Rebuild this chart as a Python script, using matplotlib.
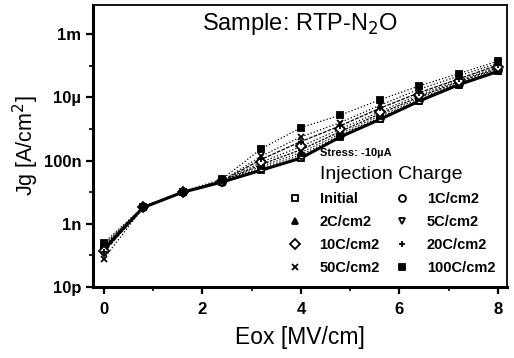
import numpy as np
import matplotlib
matplotlib.use('Agg')
import matplotlib.pyplot as plt
from matplotlib.lines import Line2D
from matplotlib.ticker import FixedLocator, NullFormatter

plt.rcParams['font.family'] = ['Liberation Sans', 'DejaVu Sans']

eox = [0.0, 0.8, 1.6, 2.4, 3.2, 4.0, 4.8, 5.6, 6.4, 7.2, 8.0]

jg_initial = [1.6e-10, 3.3e-9, 1.0e-8, 2.1e-8, 5.0e-8, 1.2e-7, 5.6e-7, 2.0e-6, 7.6e-6, 2.5e-5, 6.6e-5]
jg_1c = [2.0e-10, 3.4e-9, 1.0e-8, 2.1e-8, 5.8e-8, 1.5e-7, 6.3e-7, 2.3e-6, 8.3e-6, 2.7e-5, 7.2e-5]
jg_2c = [2.2e-10, 3.4e-9, 1.0e-8, 2.2e-8, 6.6e-8, 1.8e-7, 7.1e-7, 2.6e-6, 9.3e-6, 2.8e-5, 7.9e-5]
jg_5c = [1.8e-10, 3.4e-9, 1.0e-8, 2.2e-8, 7.6e-8, 2.2e-7, 8.3e-7, 3.0e-6, 1.05e-5, 3.1e-5, 8.5e-5]
jg_10c = [1.4e-10, 3.3e-9, 1.0e-8, 2.2e-8, 8.9e-8, 2.8e-7, 1.0e-6, 3.5e-6, 1.2e-5, 3.4e-5, 9.3e-5]
jg_20c = [1.26e-10, 3.4e-9, 1.0e-8, 2.3e-8, 1.1e-7, 4.0e-7, 1.26e-6, 4.5e-6, 1.4e-5, 3.8e-5, 1.05e-4]
jg_50c = [8.0e-11, 3.3e-9, 1.0e-8, 2.3e-8, 1.4e-7, 5.6e-7, 1.6e-6, 5.6e-6, 1.8e-5, 4.7e-5, 1.2e-4]
jg_100c = [2.5e-10, 3.5e-9, 1.05e-8, 2.6e-8, 2.4e-7, 1.1e-6, 2.75e-6, 8.3e-6, 2.3e-5, 5.6e-5, 1.4e-4]

labels = ['Initial', '1C/cm2', '2C/cm2', '5C/cm2', '10C/cm2', '20C/cm2', '50C/cm2', '100C/cm2']
series = [jg_initial, jg_1c, jg_2c, jg_5c, jg_10c, jg_20c, jg_50c, jg_100c]
markers = ['s', 'o', '^', 'v', 'D', '+', 'x', 's']
fills = ['white', 'white', 'black', 'white', 'white', 'black', 'black', 'black']
styles = ['-', ':', ':', (0, (2, 1)), ':', (0, (3, 1)), ':', ':']

fig = plt.figure(figsize=(5.14, 3.58), dpi=100)
ax = fig.add_axes([0.181, 0.198, 0.805, 0.788])

handles = []
for y, lab, mk, fc, ls in zip(series, labels, markers, fills, styles):
    lw = 2.2 if lab == 'Initial' else 0.9
    ax.plot(eox, y, color='black', linestyle=ls, linewidth=lw, zorder=3)
    ax.plot(eox, y, linestyle='None', marker=mk, ms=5, mfc=fc, mec='black',
            mew=1.3, zorder=4)
    handles.append(Line2D([], [], linestyle='None', marker=mk, ms=5, mfc=fc,
                          mec='black', mew=1.3))

ax.set_yscale('log')
ax.set_xlim(-0.22, 8.18)
ax.set_ylim(1e-11, 8.3e-3)
ax.set_xticks([0, 2, 4, 6, 8])
ax.set_xticks([1, 3, 5, 7], minor=True)
ax.yaxis.set_major_locator(FixedLocator([1e-11, 1e-9, 1e-7, 1e-5, 1e-3]))
ax.set_yticklabels(['10p', '1n', '100n', '10\u00b5', '1m'])
ax.yaxis.set_minor_locator(FixedLocator([1e-10, 1e-8, 1e-6, 1e-4]))
ax.yaxis.set_minor_formatter(NullFormatter())
ax.tick_params(which='major', direction='out', length=5, width=1.6,
               labelsize=12)
ax.tick_params(axis='x', which='major', pad=6)
ax.tick_params(which='minor', direction='out', length=3, width=1.2)
for t in ax.get_xticklabels() + ax.get_yticklabels():
    t.set_fontweight('bold')

for s in ['left', 'bottom']:
    ax.spines[s].set_linewidth(2.2)
for s in ['top', 'right']:
    ax.spines[s].set_linewidth(1.3)

ax.set_xlabel('Eox [MV/cm]', fontsize=16.5, labelpad=6)
ax.set_ylabel('Jg [A/cm$^2$]', fontsize=15.5, labelpad=2)
ax.text(0.5, 0.98, 'Sample: RTP-N$_2$O', transform=ax.transAxes, fontsize=17,
        ha='center', va='top')
ax.text(0.635, 0.475, 'Stress: -10\u00b5A', transform=ax.transAxes, fontsize=8,
        fontweight='bold', ha='center', va='center')

order = [0, 2, 4, 6, 1, 3, 5, 7]
leg = ax.legend([handles[i] for i in order], [labels[i] for i in order],
                ncol=2, loc='lower right', bbox_to_anchor=(1.0, 0.0),
                frameon=False, title='Injection Charge', title_fontsize=14,
                prop={'size': 10.5, 'weight': 'bold'}, handlelength=1.0,
                handletextpad=1.2, columnspacing=1.0, labelspacing=0.62,
                borderaxespad=0.4)

fig.savefig('out.png', dpi=100)
